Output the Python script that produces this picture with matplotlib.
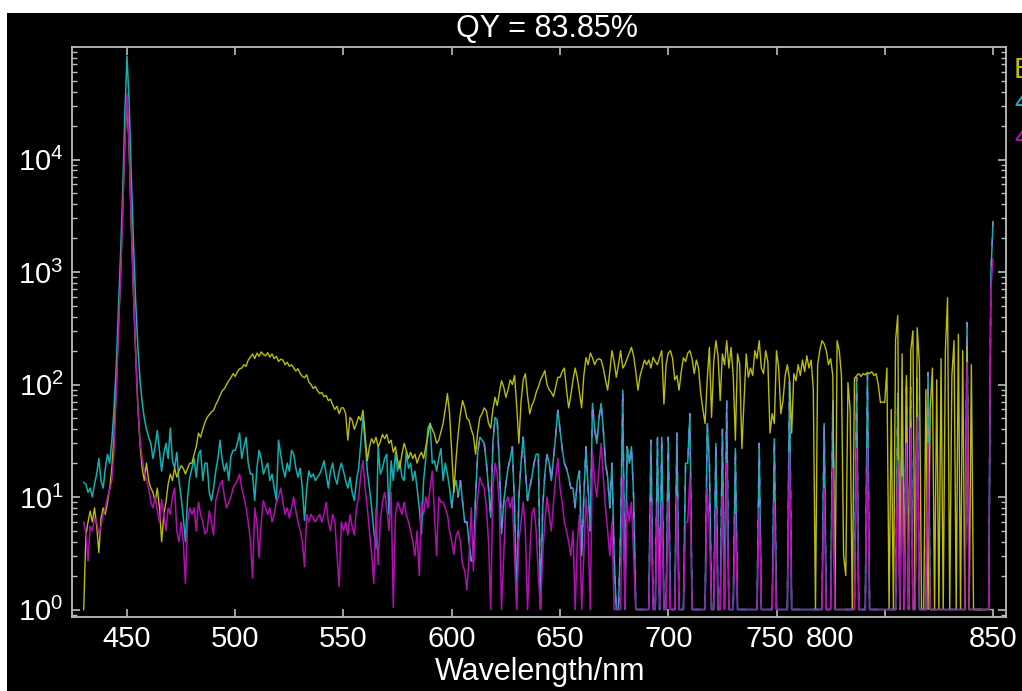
import numpy as np
import matplotlib
matplotlib.use("Agg")
import matplotlib.pyplot as plt
from matplotlib.patches import Rectangle
from matplotlib.ticker import FixedLocator, FixedFormatter, LogLocator, NullFormatter
from matplotlib.transforms import ScaledTranslation

plt.rcParams['font.family'] = ['Liberation Sans', 'DejaVu Sans']

# wavelength grid, 1 nm steps
wavelength = np.arange(430, 851)

# yellow trace (E...)
yellow = [
    1, 4.5, 6, 7.5, 6, 8, 5.5, 3.2, 6.5, 8,                         # 430
    7, 9, 12, 18, 35, 90, 300, 900, 3500, 14000,                    # 440
    35000, 12000, 2600, 650, 190, 65, 30, 18, 14, 20,               # 450
    14, 12, 11, 9, 12, 8, 4, 7, 9, 13,                              # 460
    16, 14, 18, 15, 17, 19, 18, 16, 18, 20,                         # 470
    20, 24, 28, 37, 34, 40, 46, 51, 54, 57,                         # 480
    59, 66, 72, 80, 88, 92, 100, 108, 115, 125,                     # 490
    118, 130, 138, 140, 150, 145, 165, 175, 187, 170,               # 500
    190, 178, 195, 185, 180, 192, 175, 187, 170, 178,               # 510
    160, 168, 165, 150, 158, 145, 150, 140, 132, 138,               # 520
    125, 118, 115, 122, 105, 100, 92, 96, 88, 83,                   # 530
    85, 78, 80, 72, 74, 66, 60, 64, 55, 62,                         # 540
    62, 55, 32, 51, 48, 40, 45, 52, 48, 59,                         # 550
    35, 21, 28, 33, 30, 34, 28, 31, 36, 33,                         # 560
    36, 30, 32, 25, 28, 21, 18, 24, 30, 26,                         # 570
    22, 25, 22, 24, 20, 23, 25, 22, 28, 35,                         # 580
    45, 40, 36, 30, 32, 38, 45, 60, 83, 55,                         # 590
    25, 11, 22, 37, 55, 72, 62, 50, 48, 40,                         # 600
    35, 24, 38, 51, 55, 62, 58, 45, 41, 60,                         # 610
    77, 65, 85, 108, 95, 77, 90, 110, 100, 120,                     # 620
    65, 30, 70, 110, 125, 80, 55, 65, 72, 85,                       # 630
    95, 110, 120, 133, 100, 90, 85, 78, 95, 116,                    # 640
    116, 130, 140, 90, 62, 80, 110, 140, 115, 85,                   # 650
    62, 120, 173, 150, 190, 173, 150, 165, 170, 165,                # 660
    140, 110, 89, 130, 200, 160, 116, 150, 200, 140,                # 670
    150, 170, 190, 214, 180, 130, 89, 120, 140, 165,                # 680
    150, 165, 140, 175, 160, 150, 175, 200, 67, 150,                # 690
    190, 200, 170, 110, 120, 89, 130, 173, 160, 190,                # 700
    200, 170, 125, 165, 140, 83, 60, 45, 110, 214,                  # 710
    51, 160, 245, 180, 72, 187, 150, 245, 140, 214,                 # 720
    120, 32, 187, 150, 27, 72, 187, 116, 140, 120,                  # 730
    200, 170, 245, 140, 125, 200, 160, 37, 55, 45,                  # 740
    200, 140, 55, 72, 120, 150, 110, 37, 125, 108,                  # 750
    150, 120, 165, 130, 180, 140, 165, 90, 1, 150,                  # 760
    200, 245, 230, 200, 150, 170, 120, 1, 245, 200,                 # 770
    120, 3, 2, 104, 60, 1, 113, 120, 125, 118,                      # 780
    125, 122, 128, 125, 130, 120, 125, 100, 69, 70,                 # 790
    69, 140, 1, 60, 1, 250, 410, 1, 187, 1,                         # 800
    120, 1, 200, 300, 1, 320, 150, 1, 1, 90,                        # 810
    1, 60, 140, 1, 110, 1, 170, 1, 200, 590,                        # 820
    1, 120, 245, 1, 280, 1, 200, 1, 220, 1,                         # 830
    150, 1, 1, 1, 1, 1, 1, 1, 1, 1,                                 # 840
    1,                                                              # 850
]

# cyan trace (4...)
cyan = [
    13.5, 13, 11, 12, 10, 13, 16, 22, 14, 12,                       # 430
    18, 24, 20, 32, 60, 140, 450, 1400, 5000, 25000,                # 440
    83000, 32000, 7000, 1800, 550, 220, 110, 70, 50, 40,            # 450
    34, 30, 22, 28, 39, 26, 17, 24, 30, 22,                         # 460
    41, 21, 18, 25, 14, 10, 6.6, 4, 10, 15,                         # 470
    18, 22, 15, 24, 26, 14, 20, 20, 11, 9.3,                        # 480
    12, 17, 22, 32, 21, 17, 20, 14, 23, 26,                         # 490
    26, 30, 37, 22, 28, 34, 20, 16, 16, 9.3,                        # 500
    18, 26, 22, 16, 18, 20, 14, 16, 12, 9.3,                        # 510
    32, 24, 18, 15, 20, 17, 26, 24, 18, 15,                         # 520
    18, 12, 6.2, 12, 17, 15, 16, 14, 15, 16,                        # 530
    18, 21, 16, 12, 17, 20, 15, 13, 17, 20,                         # 540
    17, 14, 12, 15, 11, 9.3, 14, 18, 30, 51,                        # 550
    30, 17, 12, 8, 5, 3.5, 28, 16, 18, 22,                          # 560
    24, 7, 21, 14, 25, 17, 21, 15, 14, 25,                          # 570
    18, 20, 14, 17, 12, 8, 4.7, 14, 22, 41,                         # 580
    45, 20, 21, 17, 22, 27, 14, 20, 16, 12,                         # 590
    8, 12, 14, 10, 14, 9, 6, 6, 4, 2.7,                             # 600
    2.7, 10, 25, 34, 32, 30, 20, 12, 6.6, 30,                       # 610
    51, 48, 20, 4.7, 9, 13, 18, 22, 28, 8,                          # 620
    1.2, 10, 20, 34, 18, 9.3, 12, 15, 20, 24,                       # 630
    24, 1, 8, 16, 24, 20, 14, 22, 35, 59,                           # 640
    40, 27, 20, 18, 15, 12, 12, 8, 14, 17,                          # 650
    3, 10, 28, 12, 5, 68, 40, 30, 50, 68,                           # 660
    40, 20, 15, 8, 20, 3, 1, 1, 5, 89,                              # 670
    1, 28, 20, 28, 10, 1, 1, 1, 1, 1,                               # 680
    1, 1, 32, 1, 1, 34, 1, 34, 1, 1,                                # 690
    34, 1, 1, 1, 37, 1, 1, 1, 20, 20,                               # 700
    55, 1, 1, 1, 1, 1, 1, 1, 45, 20,                                # 710
    1, 1, 30, 1, 1, 40, 1, 72, 1, 1,                                # 720
    1, 27, 1, 1, 1, 1, 1, 1, 1, 1,                                  # 730
    1, 1, 30, 1, 1, 1, 1, 1, 1, 33,                                 # 740
    1, 1, 1, 1, 1, 1, 108, 1, 1, 1,                                 # 750
    1, 1, 1, 1, 1, 1, 1, 1, 1, 1,                                   # 760
    1, 1, 45, 1, 1, 1, 72, 1, 1, 1,                                 # 770
    1, 1, 1, 1, 1, 1, 1, 116, 1, 1,                                 # 780
    1, 1, 125, 1, 1, 1, 1, 1, 1, 1,                                 # 790
    1, 1, 1, 1, 1, 1, 83, 1, 60, 1,                                 # 800
    108, 1, 94, 1, 1, 113, 1, 1, 1, 1,                              # 810
    128, 1, 1, 1, 1, 1, 1, 1, 1, 1,                                 # 820
    1, 1, 1, 1, 1, 1, 1, 1, 355, 1,                                 # 830
    1, 1, 1, 1, 1, 1, 1, 1, 1, 900,                                 # 840
    2800,                                                           # 850
]

# magenta trace (4...)
magenta = [
    6, 4.8, 2.7, 5.5, 5, 6.5, 6, 4.7, 5.5, 7,                       # 430
    8, 10, 11.5, 14, 25, 80, 280, 850, 3300, 14000,                 # 440
    39000, 13000, 2600, 650, 190, 65, 32, 22, 17, 14,               # 450
    12, 9, 8, 10, 7.6, 6, 9.5, 7, 5, 8,                             # 460
    7, 10, 12, 5, 4, 6, 4, 1.7, 6, 8,                               # 470
    7, 8, 5, 9, 7, 6, 4.7, 5, 7.5, 6,                               # 480
    4.6, 9.3, 11, 13, 14, 10, 8, 9, 10, 12,                         # 490
    13, 14, 16, 12, 10, 8, 6, 4.1, 1.9, 8,                          # 500
    6, 2.9, 6, 9.3, 8, 7, 8, 6, 7, 9,                               # 510
    10, 12, 9, 7, 8, 6.5, 8, 10, 7.5, 6,                           # 520
    5, 4, 2.4, 7, 6, 7, 6.5, 6, 6.5, 7,                             # 530
    6, 7, 9, 6, 5, 7, 6, 3.1, 1.6, 6,                               # 540
    5, 6, 4.6, 7, 5.5, 4.6, 8, 10, 16, 21,                          # 550
    12, 8, 5, 3.1, 1.7, 8, 2.5, 6, 9, 11,                           # 560
    8, 5, 11, 1.04, 7, 9, 8, 7, 9, 7,                               # 570
    6, 5, 4, 3, 5, 2, 9, 7, 10, 8,                                  # 580
    12, 17, 7, 3, 10, 9, 9, 8, 7, 5,                                # 590
    4, 3.1, 4.5, 5, 4, 2.5, 2.2, 1.5, 3, 8,                         # 600
    2.2, 6, 10, 15, 13, 12, 8, 4, 1, 12,                            # 610
    20, 16, 8, 1, 3, 9, 10, 8, 10, 3,                               # 620
    1, 4, 6, 9, 5, 1, 3, 7, 8, 5,                                   # 630
    2, 1, 3, 6, 10, 7, 5, 9, 15, 22,                                # 640
    12, 9, 6, 5, 4, 3, 5, 1, 4, 7,                                  # 650
    1, 3, 10, 5, 1, 25, 14, 10, 18, 30,                             # 660
    15, 8, 5, 3, 6, 1, 1, 1, 1, 15,                                 # 670
    1, 9, 6, 9, 3, 1, 1, 1, 1, 1,                                   # 680
    1, 1, 9, 1, 1, 9, 1, 9, 1, 1,                                   # 690
    9, 1, 1, 1, 10, 1, 1, 1, 6, 6,                                  # 700
    15, 1, 1, 1, 1, 1, 1, 1, 12, 5,                                 # 710
    1, 1, 8, 1, 1, 10, 1, 20, 1, 1,                                 # 720
    1, 7, 1, 1, 1, 1, 1, 1, 1, 1,                                   # 730
    1, 1, 8, 1, 1, 1, 1, 1, 1, 9,                                   # 740
    1, 1, 1, 1, 1, 1, 25, 1, 1, 1,                                  # 750
    1, 1, 1, 1, 1, 1, 1, 1, 1, 1,                                   # 760
    1, 1, 12, 1, 1, 1, 18, 1, 1, 1,                                 # 770
    1, 1, 1, 1, 1, 1, 1, 27, 1, 1,                                  # 780
    1, 1, 27, 1, 1, 1, 1, 1, 1, 1,                                  # 790
    1, 1, 1, 1, 1, 1, 21, 1, 15, 1,                                 # 800
    30, 1, 41, 1, 1, 51, 1, 1, 1, 1,                                # 810
    30, 1, 1, 1, 1, 1, 1, 1, 1, 1,                                  # 820
    1, 1, 1, 1, 1, 1, 1, 1, 157, 1,                                 # 830
    1, 1, 1, 1, 1, 1, 1, 1, 1, 700,                                 # 840
    1300,                                                           # 850
]

legend_labels = ["E", "4", "4"]
x_ticks = [450, 500, 550, 600, 650, 700, 750, 800, 850]
y_ticks = [1, 10, 100, 1000, 10000]
y_tick_labels = [r"$\mathregular{10^{%d}}$" % i for i in range(5)]
title = "QY = 83.85%"

W, H = 1022, 691
fig = plt.figure(figsize=(W / 100, H / 100), dpi=100, facecolor="white")
# black panel, with a thin white margin at top and left
bg = Rectangle((7 / W, 0), 1, 1 - 13 / H, transform=fig.transFigure,
               facecolor="black", edgecolor="none", zorder=-10)
fig.add_artist(bg)

ax = fig.add_axes([72 / W, 1 - 617 / H, (1006 - 72) / W, (617 - 47) / H])
ax.set_facecolor("black")
ax.set_zorder(1)

col_y, col_c, col_m = "#bcbc0c", "#12b0b0", "#b010b0"
ax.plot(wavelength, cyan, color=col_c, lw=1.1)
# in the spiky part the overlapping traces show broken bluish segments
spiky = wavelength >= 600
ax.plot(wavelength[spiky], np.asarray(cyan)[spiky], color="#7088e0", lw=1.1, dashes=(5, 8))
ax.plot(wavelength, yellow, color=col_y, lw=1.0)
ax.plot(wavelength, magenta, color=col_m, lw=1.1)

ax.set_yscale("log")
ax.set_xlim(424.6, 856)
ax.set_ylim(0.858, 1e5)

ax.xaxis.set_major_locator(FixedLocator(x_ticks))
ax.set_xticklabels([str(t) for t in x_ticks])
ax.yaxis.set_major_locator(FixedLocator(y_ticks))
ax.yaxis.set_major_formatter(FixedFormatter(y_tick_labels))
ax.yaxis.set_minor_locator(LogLocator(base=10, subs=np.arange(2, 10)))
ax.yaxis.set_minor_formatter(NullFormatter())

for s in ax.spines.values():
    s.set_color("#bdbdbd")
    s.set_linewidth(1.3)
ax.tick_params(which="both", direction="in", top=True, right=True, color="#bdbdbd",
               labelcolor="white", labelsize=21)
ax.tick_params(which="major", length=6, width=1.2)
ax.tick_params(which="minor", length=3.5, width=1.0)
ax.tick_params(axis="x", pad=6)
ax.tick_params(axis="y", pad=6)

# odd label placement of the original
fig.canvas.draw()
shifts = {750: -7, 800: -55}
for tick, lab in zip(x_ticks, ax.get_xticklabels()):
    if tick in shifts:
        lab.set_transform(lab.get_transform() + ScaledTranslation(shifts[tick] / 100, 0, fig.dpi_scale_trans))

fig.text(547 / W, 1 - 29 / H, title, color="white", fontsize=22, ha="center", va="center", zorder=5)
fig.text(540 / W, 1 - 672 / H, "Wavelength/nm", color="white", fontsize=22, ha="center", va="center", zorder=5)

for lab, c, yp in zip(legend_labels, [col_y, col_c, col_m], [70, 103, 138]):
    fig.text(1014 / W, 1 - yp / H, lab, color=c, fontsize=21, ha="left", va="center", zorder=5)

fig.savefig("out.png", dpi=100, facecolor="white")
